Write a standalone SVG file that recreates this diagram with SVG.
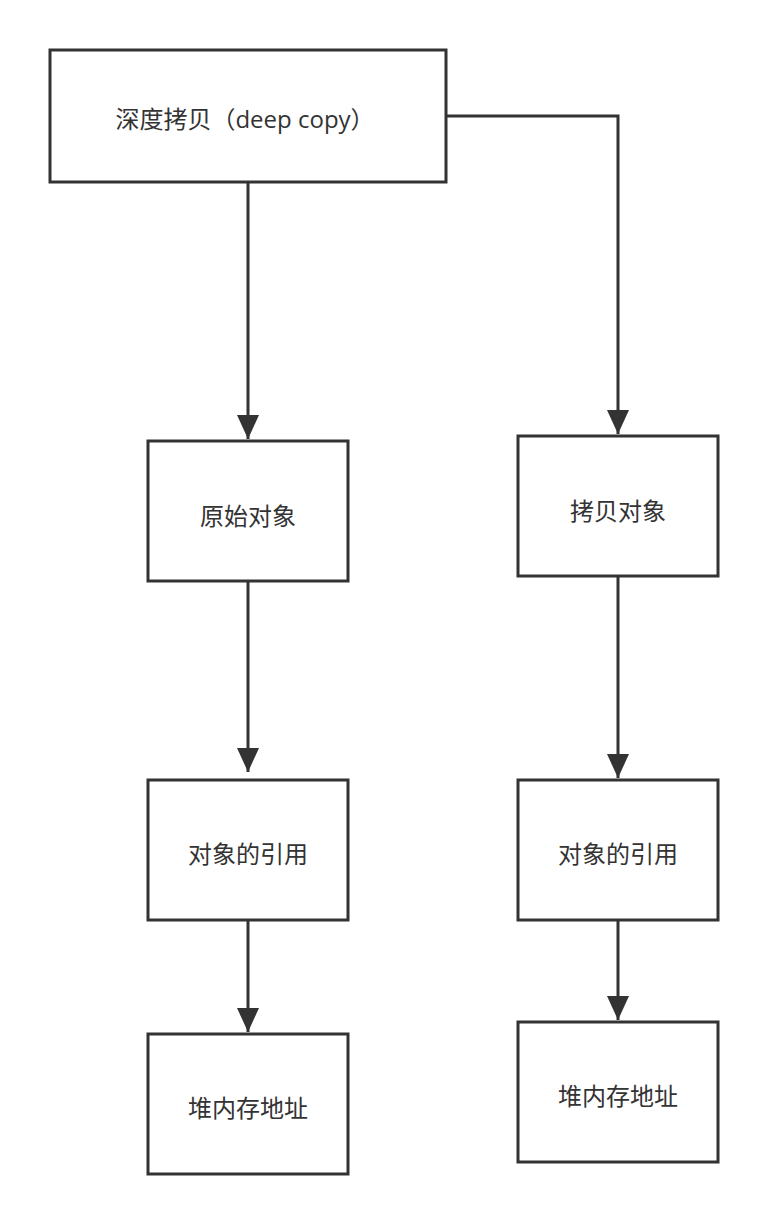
<svg xmlns="http://www.w3.org/2000/svg" width="768" height="1224" viewBox="0 0 768 1224">
<style>
.b{fill:#fff;stroke:#333;stroke-width:3}
.t{font-family:"Open Sans","Noto Sans CJK SC",sans-serif;font-size:24px;fill:#333;text-anchor:middle;dominant-baseline:central}
.c{fill:none;stroke:#333;stroke-width:3}
</style>
<defs><marker id="a" markerUnits="userSpaceOnUse" markerWidth="24" markerHeight="32" refX="24" refY="11" orient="auto" viewBox="0 0 24 22"><path d="M0,0L24,11L0,22z" fill="#333"/></marker></defs>
<rect width="768" height="1224" fill="#fff"/>
<g id="connectors">
<path class="c" d="M248,182V439" marker-end="url(#a)"/>
<path class="c" d="M446,116H618V434" marker-end="url(#a)"/>
<path class="c" d="M248,581V772" marker-end="url(#a)"/>
<path class="c" d="M618,576V778" marker-end="url(#a)"/>
<path class="c" d="M248,920V1032" marker-end="url(#a)"/>
<path class="c" d="M618,920V1020" marker-end="url(#a)"/>
</g>
<g id="n1"><rect class="b" x="50" y="50" width="396" height="132"/><text class="t" x="245" y="118">深度拷贝（deep copy）</text></g>
<g id="n2"><rect class="b" x="148" y="441" width="200" height="140"/><text class="t" x="248" y="515">原始对象</text></g>
<g id="n3"><rect class="b" x="518" y="436" width="200" height="140"/><text class="t" x="618" y="510">拷贝对象</text></g>
<g id="n4"><rect class="b" x="148" y="780" width="200" height="140"/><text class="t" x="248" y="853">对象的引用</text></g>
<g id="n5"><rect class="b" x="518" y="780" width="200" height="140"/><text class="t" x="618" y="853">对象的引用</text></g>
<g id="n6"><rect class="b" x="148" y="1034" width="200" height="140"/><text class="t" x="248" y="1107">堆内存地址</text></g>
<g id="n7"><rect class="b" x="518" y="1022" width="200" height="140"/><text class="t" x="618" y="1095">堆内存地址</text></g>
</svg>
